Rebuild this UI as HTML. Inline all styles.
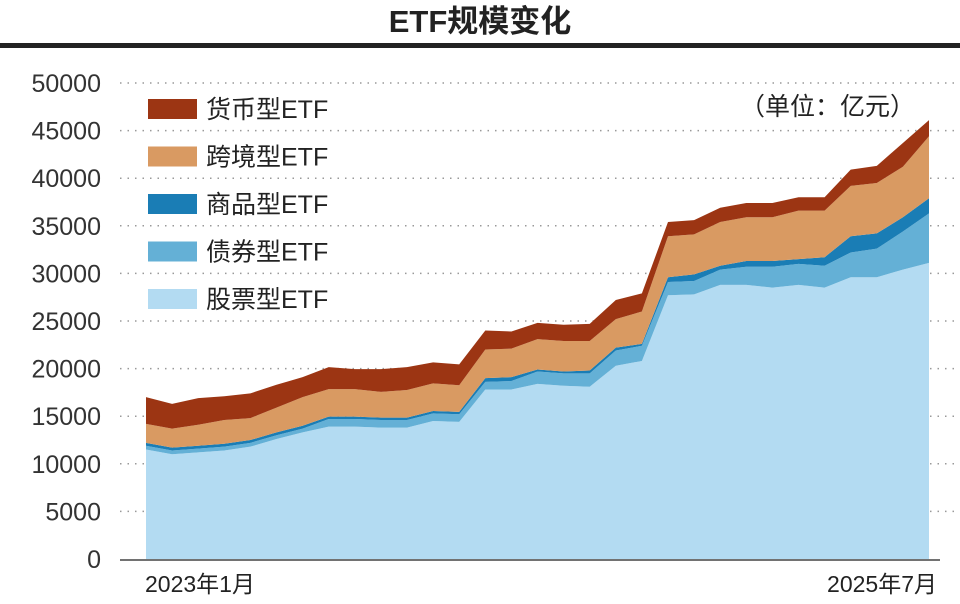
<!DOCTYPE html>
<html><head><meta charset="utf-8"><style>
body{margin:0;background:#fff;width:960px;height:599px;overflow:hidden;font-family:"Liberation Sans","Noto Sans CJK SC",sans-serif}
</style></head><body>
<svg id="c" width="960" height="599" xmlns="http://www.w3.org/2000/svg"></svg>
<script>
const months = 31;
const stock = [11.5,11.0,11.2,11.4,11.8,12.6,13.3,13.9,13.9,13.8,13.8,14.5,14.4,17.8,17.8,18.4,18.2,18.1,20.3,20.8,27.7,27.8,28.8,28.8,28.5,28.8,28.5,29.6,29.6,30.4,31.1];
const bond = [0.4,0.4,0.4,0.4,0.4,0.4,0.4,0.8,0.8,0.8,0.8,0.8,0.8,0.8,0.9,1.3,1.3,1.4,1.6,1.6,1.4,1.4,1.6,1.9,2.2,2.2,2.3,2.6,3.0,4.0,5.2];
const commodity = [0.3,0.3,0.3,0.3,0.3,0.3,0.3,0.25,0.25,0.25,0.25,0.25,0.25,0.4,0.4,0.2,0.2,0.3,0.3,0.2,0.5,0.7,0.4,0.6,0.6,0.5,0.9,1.7,1.6,1.5,1.6];
const cross = [2.0,2.0,2.2,2.5,2.3,2.6,3.0,2.9,2.9,2.7,2.9,2.9,2.8,3.0,3.0,3.2,3.2,3.1,3.0,3.4,4.3,4.2,4.6,4.6,4.6,5.1,4.9,5.3,5.3,5.3,6.5];
const money = [2.8,2.6,2.8,2.5,2.6,2.4,2.1,2.3,2.1,2.4,2.4,2.2,2.2,2.0,1.8,1.7,1.7,1.8,2.0,1.9,1.5,1.5,1.5,1.5,1.5,1.4,1.4,1.7,1.8,2.5,1.7];
const yTicks = [0,5000,10000,15000,20000,25000,30000,35000,40000,45000,50000];
const xLabels = ["2023年1月","2025年7月"];
const seriesNames = ["股票型ETF","债券型ETF","商品型ETF","跨境型ETF","货币型ETF"];
const colors = ["#b3dbf2","#64b0d6","#1a7db5","#d99a62","#9c3513"];
const svg = document.getElementById('c');
const NS = "http://www.w3.org/2000/svg";
const x = i => 146 + i * (929 - 146) / (months - 1);
const y = v => 559 - v * (476 / 50000);
function mk(tag, attrs, name) {
  const e = document.createElementNS(NS, tag);
  for (const k in attrs) e.setAttribute(k, attrs[k]);
  
  
  svg.appendChild(e); return e;
}
function txt(s, attrs, name){ const t = mk('text', attrs, name); t.textContent = s; return t; }
// title
txt("ETF规模变化", {x:480,y:32,'text-anchor':'middle','font-size':31,'font-weight':'bold',fill:'#222'}, 'chart-title');
mk('rect',{x:0,y:43,width:960,height:5,fill:'#222'},'title-rule');
// grid and y ticks
yTicks.forEach(v => {
  if (v > 0) mk('line',{x1:120,x2:960,y1:y(v),y2:y(v),stroke:'#999','stroke-width':1.5,'stroke-dasharray':'1.5 6'},'gridline');
  txt(String(v),{x:101,y:y(v)+9,'text-anchor':'end','font-size':25,fill:'#333'},'y-tick-label');
});
// stacked areas
const series = [stock,bond,commodity,cross,money];
let base = new Array(months).fill(0);
series.forEach((s, si) => {
  const top = base.map((b, i) => b + s[i] * 1000);
  let d = "M" + x(0) + "," + y(top[0]);
  for (let i = 1; i < months; i++) d += "L" + x(i) + "," + y(top[i]);
  for (let i = months - 1; i >= 0; i--) d += "L" + x(i) + "," + y(base[i]);
  mk('path',{d:d+"Z",fill:colors[si]},'area-' + ['stock','bond','commodity','cross-border','money'][si]);
  base = top;
});
// x axis
mk('line',{x1:120,x2:940,y1:560,y2:560,stroke:'#444','stroke-width':1.5},'x-axis-line');
txt(xLabels[0],{x:145,y:592,'font-size':23,fill:'#222'},'x-tick-label');
txt(xLabels[1],{x:937,y:592,'text-anchor':'end','font-size':23,fill:'#222'},'x-tick-label');
// legend
const legOrder = [4,3,2,1,0];
legOrder.forEach((si, k) => {
  const yy = 99 + k * 47.5;
  mk('rect',{x:148,y:yy,width:49,height:20,fill:colors[si]},'legend-swatch');
  txt(seriesNames[si],{x:206,y:yy+19,'font-size':25,fill:'#222'},'legend-label');
});
txt("（单位：亿元）",{x:915,y:115,'text-anchor':'end','font-size':25,fill:'#222'},'unit-label');
</script>
</body></html>
